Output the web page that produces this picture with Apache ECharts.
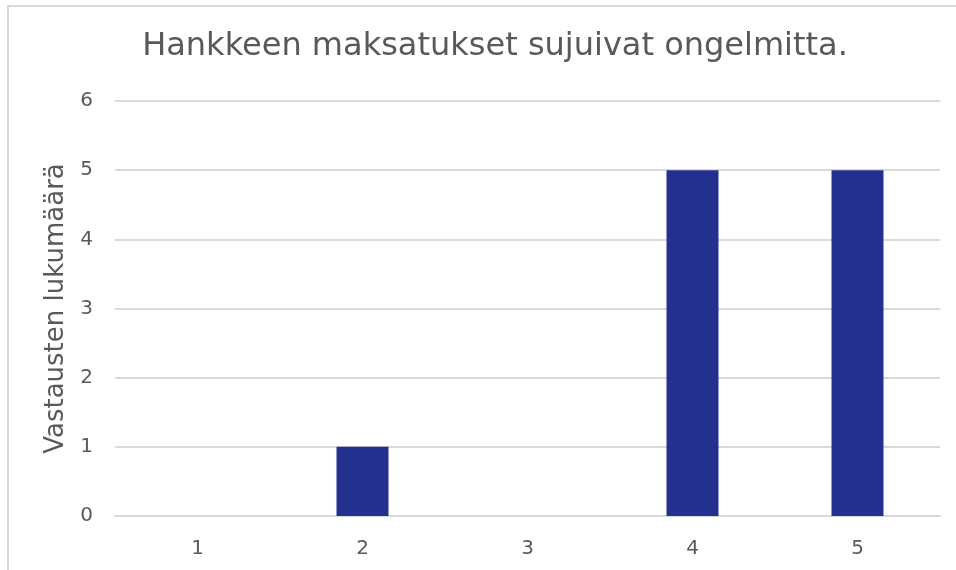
<!DOCTYPE html>
<html>
<head>
<meta charset="utf-8">
<script src="https://cdn.jsdelivr.net/npm/echarts@6/dist/echarts.min.js"></script>
<style>
  html, body { margin: 0; padding: 0; background: #fff; overflow: hidden; }
  #frame { position: absolute; left: 7px; top: 5px; width: 1000px; height: 620px; border: 2px solid #d9d9d9; }
  #chart { position: absolute; left: 0; top: 0; width: 956px; height: 570px; }
</style>
</head>
<body>
<div id="frame"></div>
<div id="chart"></div>
<script>
// vastausvaihtoehdot ja vastausmäärät
var categories = ['1', '2', '3', '4', '5'];
var counts = [0, 1, 0, 5, 5];

var chart = echarts.init(document.getElementById('chart'));

var option = {
    title: {
        text: 'Hankkeen maksatukset sujuivat ongelmitta.',
        left: 490,
        top: 26,
        textAlign: 'center',
        textStyle: {
            color: '#595959',
            fontSize: 32,
            fontWeight: 'normal',
            fontFamily: 'DejaVu Sans'
        }
    },
    grid: { left: 115, right: 16, top: 101, bottom: 54 },
    xAxis: {
        type: 'category',
        data: categories,
        axisLine: { lineStyle: { color: '#d9d9d9', width: 2 } },
        axisTick: { show: false },
        axisLabel: { color: '#595959', fontSize: 20, margin: 23, fontFamily: 'DejaVu Sans' }
    },
    yAxis: {
        type: 'value',
        min: 0,
        max: 6,
        interval: 1,
        name: 'Vastausten lukumäärä',
        nameLocation: 'middle',
        nameGap: 41,
        nameTextStyle: { color: '#595959', fontSize: 26, fontFamily: 'DejaVu Sans' },
        axisLine: { show: false },
        axisTick: { show: false },
        axisLabel: { color: '#595959', fontSize: 20, margin: 22, fontFamily: 'DejaVu Sans' },
        splitLine: { lineStyle: { color: '#d9d9d9', width: 2 } }
    },
    series: [{
        type: 'bar',
        data: counts,
        barWidth: '31.5%',
        itemStyle: { color: '#24308f' },
        silent: true
    }],
    animation: false
};

chart.setOption(option);
</script>
</body>
</html>
